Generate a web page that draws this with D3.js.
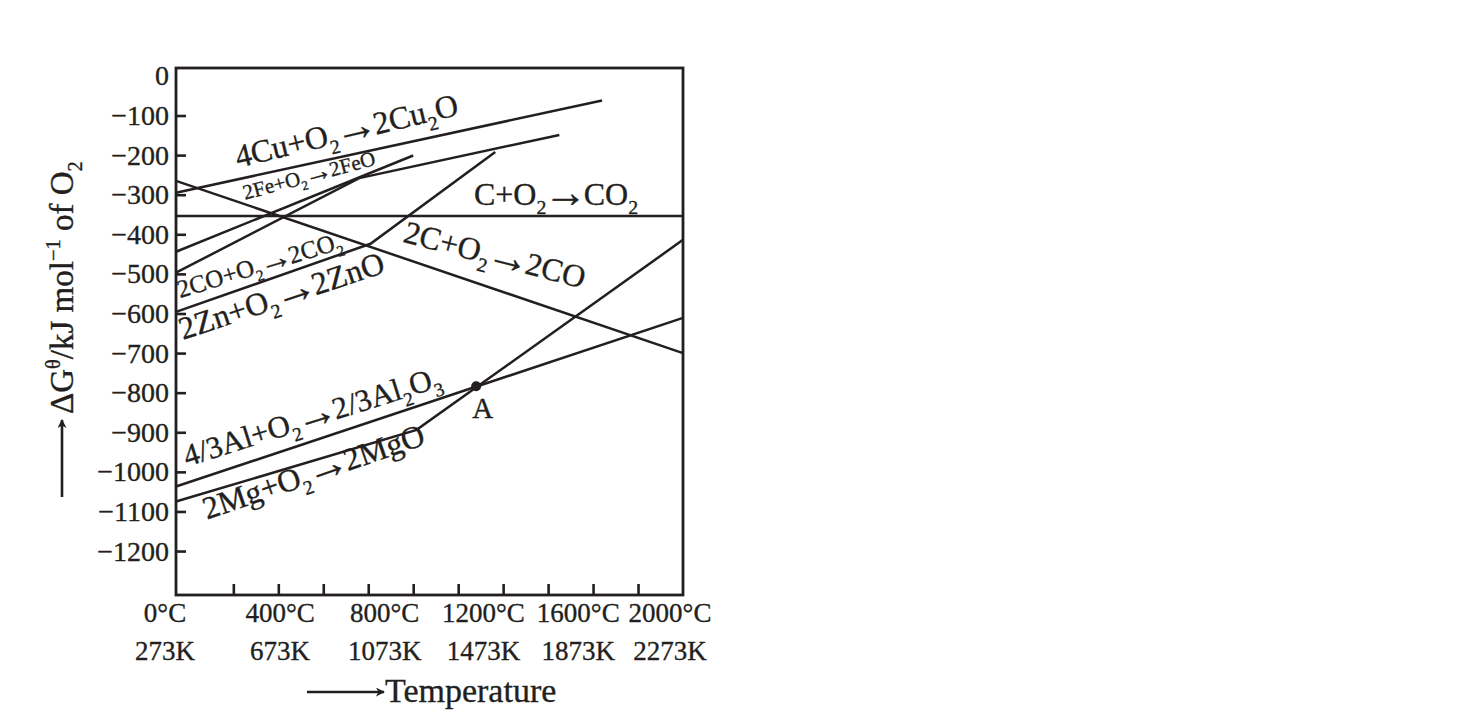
<!DOCTYPE html>
<html>
<head>
<meta charset="utf-8">
<script src="https://cdn.jsdelivr.net/npm/d3@7"></script>
<style>
  body { margin: 0; background: #fff; }
  svg text { font-family: "Liberation Serif", "Times New Roman", serif; fill: #231f20; stroke: #231f20; stroke-width: 0.35px; }
</style>
</head>
<body>
<div id="chart"></div>
<script>
// temperature in °C, free energy in kJ per mol of O2
const cuLine = [[-55, -295], [1840, -62]];
const feLine = [[-55, -444], [1000, -201]];
const coToCo2Line = [[-55, -497], [760, -258], [1650, -149]];
const znLine = [[-55, -596], [810, -424], [1365, -192]];
const cToCoLine = [[-55, -265], [2200, -700]];
const cToCo2Line = [[-55, -354], [2200, -354]];
const alLine = [[-55, -1037], [2200, -611]];
const mgLine = [[-55, -1075], [1015, -894], [2200, -414]];
const pointA = [1280, -784];

const seriesLines = [cuLine, feLine, coToCo2Line, znLine, cToCoLine, cToCo2Line, alLine, mgLine];
const reactionNames = [
  "4Cu+O_{2}→2Cu_{2}O",
  "2Fe+O_{2}→2FeO",
  "2CO+O_{2}→2CO_{2}",
  "2Zn+O_{2}→2ZnO",
  "2C+O_{2}→2CO",
  "C+O_{2}→CO_{2}",
  "4/3Al+O_{2}→2/3Al_{2}O_{3}",
  "2Mg+O_{2}→2MgO"
];

const yTickValues = [0, -100, -200, -300, -400, -500, -600, -700, -800, -900, -1000, -1100, -1200];
const xTickTemps = [200, 400, 600, 800, 1000, 1200, 1400, 1600, 1800, 2000];
const celsiusLabels = ["0°C", "400°C", "800°C", "1200°C", "1600°C", "2000°C"];
const kelvinLabels = ["273K", "673K", "1073K", "1473K", "1873K", "2273K"];
const kelvinValues = [273, 673, 1073, 1473, 1873, 2273];

class EllinghamChart {
  constructor() {
    this.ink = "#231f20";
    this.buildLayout();
    this.buildScales();
    this.buildSvg();
  }

  buildLayout() {
    this.width = 1458;
    this.height = 719;
    this.frame = { left: 176, right: 683, top: 68, bottom: 595 };
    // where each reaction label sits (data coords of baseline start), its tilt and size
    this.labelPlaces = [
      { t: 221, g: -232, angle: -13.5, size: 32 },
      { t: 252, g: -313, angle: -15, size: 21 },
      { t: -37, g: -561, angle: -17, size: 25 },
      { t: -24, g: -667, angle: -18.5, size: 32 },
      { t: 950, g: -419, angle: 14.5, size: 32 },
      { t: 1270, g: -326, angle: 0, size: 32 },
      { t: -6, g: -987, angle: -17.5, size: 31 },
      { t: 83, g: -1121, angle: -19, size: 32 }
    ];
  }

  buildScales() {
    this.x = d3.scaleLinear().domain([-55, 2200]).range([this.frame.left, this.frame.right]);
    this.y = d3.scaleLinear().domain([20, -1311]).range([this.frame.top, this.frame.bottom]);
    // the printed temperature labels are not evenly spread under the ticks
    this.labelX = d3.scalePow().exponent(0.85).domain([273, 2273]).range([165, 670]);
  }

  buildSvg() {
    this.svg = d3.select("#chart").append("svg")
      .attr("width", this.width)
      .attr("height", this.height);

    const defs = this.svg.append("defs");
    defs.append("marker")
      .attr("id", "head")
      .attr("viewBox", "0 0 10 10")
      .attr("refX", 9).attr("refY", 5)
      .attr("markerWidth", 9).attr("markerHeight", 9)
      .attr("markerUnits", "userSpaceOnUse")
      .attr("orient", "auto")
      .append("path")
      .attr("d", "M0,0 L10,5 L0,10 L3,5 Z")
      .attr("fill", this.ink);
  }

  richText(sel, label, size) {
    const parts = label.match(/_\{[^}]*\}|\^\{[^}]*\}|→|[^_^→]+/g);
    let shift = 0, afterArrow = false;
    parts.forEach(p => {
      let dy = -shift, fs = size, txt = p, dx = afterArrow ? -size * 0.1 : 0;
      afterArrow = false;
      if (p.startsWith("_{")) { txt = p.slice(2, -1); fs = size * 0.62; shift = size * 0.28; dy += shift; }
      else if (p.startsWith("^{")) { txt = p.slice(2, -1); fs = size * 0.62; shift = -size * 0.38; dy += shift; }
      else if (p === "→") { fs = size * 1.35; shift = size * 0.06; dy += shift; dx = -size * 0.08; afterArrow = true; }
      else { shift = 0; }
      sel.append("tspan").attr("dy", dy).attr("dx", dx).attr("font-size", fs).text(txt);
    });
  }

  drawAxes() {
    const f = this.frame;
    const left = this.svg.append("g")
      .attr("transform", "translate(" + f.left + ",0)")
      .call(d3.axisLeft(this.y).tickValues(yTickValues).tickSizeInner(-10).tickSizeOuter(0).tickPadding(7)
        .tickFormat(d => d === 0 ? "0" : "−" + Math.abs(d)));
    left.select(".domain").remove();
    left.selectAll(".tick line").attr("stroke", this.ink).attr("stroke-width", 2.6)
      .filter(d => d === 0).remove();
    left.selectAll(".tick text").attr("font-size", 28).attr("font-family", null).attr("fill", this.ink);

    const bottom = this.svg.append("g")
      .attr("transform", "translate(0," + f.bottom + ")")
      .call(d3.axisBottom(this.x).tickValues(xTickTemps).tickSizeInner(-11).tickSizeOuter(0).tickFormat(""));
    bottom.select(".domain").remove();
    bottom.selectAll(".tick line").attr("stroke", this.ink).attr("stroke-width", 2.6);

    this.svg.append("rect")
      .attr("x", f.left).attr("y", f.top)
      .attr("width", f.right - f.left).attr("height", f.bottom - f.top)
      .attr("fill", "none").attr("stroke", this.ink).attr("stroke-width", 2.8);

    const rows = this.svg.append("g").attr("font-size", 27).attr("text-anchor", "middle");
    rows.selectAll("text.c").data(kelvinValues).join("text")
      .attr("class", "c")
      .attr("x", d => this.labelX(d)).attr("y", 622)
      .text((d, i) => celsiusLabels[i]);
    rows.selectAll("text.k").data(kelvinValues).join("text")
      .attr("class", "k")
      .attr("x", d => this.labelX(d)).attr("y", 660)
      .text((d, i) => kelvinLabels[i]);

    // axis titles with their arrows
    this.svg.append("line")
      .attr("x1", 307).attr("x2", 384).attr("y1", 692).attr("y2", 692)
      .attr("stroke", this.ink).attr("stroke-width", 2.6).attr("marker-end", "url(#head)");
    this.svg.append("text")
      .attr("x", 385).attr("y", 702).attr("font-size", 34)
      .text("Temperature");

    this.svg.append("line")
      .attr("x1", 62).attr("x2", 62).attr("y1", 497).attr("y2", 420)
      .attr("stroke", this.ink).attr("stroke-width", 2.6).attr("marker-end", "url(#head)");
    const yTitle = this.svg.append("text")
      .attr("transform", "translate(73,414) rotate(-90)");
    this.richText(yTitle, "ΔG^{θ}/kJ mol^{−1} of O_{2}", 33);
  }

  drawLines() {
    const line = d3.line().x(d => this.x(d[0])).y(d => this.y(d[1]));
    this.svg.append("g").selectAll("path").data(seriesLines).join("path")
      .attr("d", line)
      .attr("fill", "none")
      .attr("stroke", this.ink)
      .attr("stroke-width", 2.5);

    this.svg.append("circle")
      .attr("cx", this.x(pointA[0])).attr("cy", this.y(pointA[1])).attr("r", 5)
      .attr("fill", this.ink);
    this.svg.append("text")
      .attr("x", this.x(pointA[0]) - 4).attr("y", this.y(pointA[1]) + 32)
      .attr("font-size", 29).text("A");
  }

  drawLabels() {
    reactionNames.forEach((name, i) => {
      const p = this.labelPlaces[i];
      const t = this.svg.append("text")
        .attr("transform", "translate(" + this.x(p.t) + "," + this.y(p.g) + ") rotate(" + p.angle + ")");
      this.richText(t, name, p.size);
    });
  }
}

const chart = new EllinghamChart();
chart.drawAxes();
chart.drawLines();
chart.drawLabels();
</script>
</body>
</html>
